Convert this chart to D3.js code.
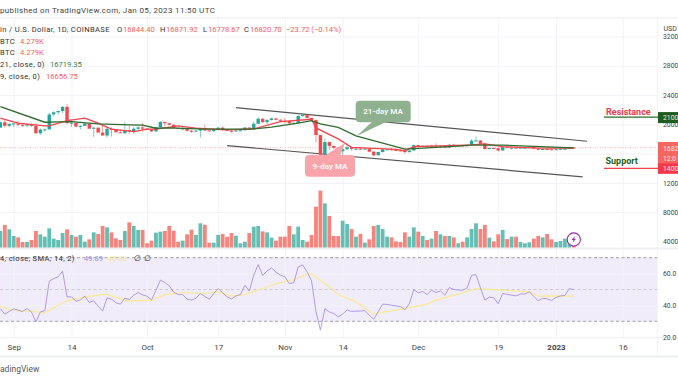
<!DOCTYPE html>
<html lang="en">
<head>
    <meta charset="UTF-8">
    <title>Bitcoin / U.S. Dollar</title>
    <script src="https://d3js.org/d3.v7.min.js"></script>
    <style>
        body { margin: 0; background: white; overflow: hidden; }
        text { font-family: Roboto, sans-serif; }
        .tick text { fill: #444; font-size: 8px; }
        .rightAxis .tick text { font-size: 6.8px; }
        .domain { display: none; }
        .grid line { stroke: #f1f3f9; }
        .legend { font-size: 7.6px; fill: #333; }
    </style>
</head>
<body>
<script>
    const width  = 678;
    const height = 381;

    // one entry per day, starting on Aug 29 2022
    const opens = [
        19550,20290,19810,
        20050,20130,19950,19830,20000,19800,18790,19290,19320,21360,21650,21830,22400,20180,20240,19700,19800,20110,19420,19540,18880,18480,19400,19290,18920,18800,19220,19080,19410,19590,
        19420,19310,19050,19620,20330,20160,19950,19530,19420,19440,19130,19060,19150,19380,19180,19060,19260,19550,19330,19120,19040,19160,19200,19570,19330,20090,20770,20300,20590,20820,20630,
        20490,20480,20150,20200,21140,21300,20900,20590,18540,15880,17590,17060,16810,16330,16610,16880,16660,16690,16680,16700,16280,15780,16230,16600,16600,16520,16460,16430,16210,16440,
        17170,16970,17090,16890,17110,16970,17090,16840,17230,17130,17130,17080,17200,17780,17810,17360,16630,16780,16740,16440,16900,16820,16830,16780,16830,16830,16910,16700,16540,16630,16600,
        16540,16610,16670,16670,16844.40
    ];
    const closes = [
        20290,19810,20050,
        20130,19950,19830,20000,19800,18790,19290,19320,21360,21650,21830,22400,20180,20240,19700,19800,20110,19420,19540,18880,18480,19400,19290,18920,18800,19220,19080,19410,19590,19420,
        19310,19050,19620,20330,20160,19950,19530,19420,19440,19130,19060,19150,19380,19180,19060,19260,19550,19330,19120,19040,19160,19200,19570,19330,20090,20770,20300,20590,20820,20630,20490,
        20480,20150,20200,21140,21300,20900,20590,18540,15880,17590,17060,16810,16330,16610,16880,16660,16690,16680,16700,16280,15780,16230,16600,16600,16520,16460,16430,16210,16440,17170,
        16970,17090,16890,17110,16970,17090,16840,17230,17130,17130,17080,17200,17780,17810,17360,16630,16780,16740,16440,16900,16820,16830,16780,16830,16830,16910,16700,16540,16630,16600,16540,
        16610,16670,16670,16850,16820.70
    ];
    const highs = [
        20400,20600,20200,
        20210,20450,20040,20050,20160,20160,19460,19450,21600,21790,21850,22490,22780,20550,20190,19900,20190,20110,19690,19620,19950,19510,19610,19310,19320,20340,19790,19650,19770,20180,
        19480,19390,19700,20450,20370,20160,20050,19600,19640,19520,19270,19220,19500,19950,19200,19300,19680,19700,19350,19350,19260,19250,19600,19600,20400,21000,20850,20750,20900,20840,20720,
        20840,20240,20400,21300,21460,21350,20680,20650,18600,18100,17650,17100,16900,17170,17130,17000,16790,16740,16800,16730,16300,16290,16600,16680,16780,16660,16590,16670,16450,17240,
        17240,17110,17100,17200,17420,17140,17150,17300,17350,17170,17220,17240,18000,18380,17840,17520,16800,16850,16820,17000,16890,16850,16840,16870,16840,16940,16930,16770,16650,16650,16630,
        16620,16760,16770,16990,16871.92
    ];
    const lows = [
        19800,19550,19600,
        19620,19760,19670,19620,19640,18700,18550,19000,19300,21100,21350,21560,20000,19650,19600,19320,19900,19380,18300,19300,18700,18200,18350,19000,18850,18650,18700,18650,19000,19000,
        19180,18950,19020,19500,19730,19880,19500,19320,19300,19030,18850,19000,18200,19100,19050,19030,19240,19100,19060,18900,19020,19130,19160,19250,19250,20050,20200,20000,20560,20530,20300,
        20050,20050,20050,20170,21060,20850,20400,17600,15650,15800,16500,16650,16300,15830,16530,16400,16450,16550,16550,16200,15650,15800,16170,16550,16460,16360,16300,16020,16190,16420,
        16870,16880,16870,16880,16900,16750,16720,16800,17080,17090,17070,16880,17080,17660,17300,16550,16600,16670,16300,16400,16760,16580,16760,16800,16790,16800,16600,16480,16480,16520,16500,
        16500,16550,16650,16650,16778.67
    ];
    const volumes = [
        5380,6210,5610,
        4690,4500,3860,3860,4140,5380,4920,4600,5750,4320,4140,5100,5610,4830,4600,4830,3910,4230,5190,4960,6070,5880,5190,4370,4140,5380,6570,6070,5520,5520,
        3680,4050,5150,5290,5380,6070,5420,3910,4050,4920,5560,4830,6440,6250,3770,3770,4830,4960,4600,5100,4730,3680,3910,5100,5980,6070,5330,5190,4460,4050,4600,
        4600,6070,4920,5980,4140,3910,4830,8730,10940,9190,7450,4690,4690,6800,6340,5650,4600,4960,3770,4230,6070,6210,5650,4600,4500,3950,3860,5190,4600,5880,
        5290,4690,4140,4320,5380,4920,4690,4690,4500,3680,3910,4500,5650,6440,5650,6210,4460,3950,4920,5520,4270,4600,4600,3860,3680,3820,4320,4690,4500,4960,4230,
        3860,4000,4320,4140,3450
    ];
    const rsiValues = [
        38.0,34.5,36.2,
        37.8,37.0,36.2,38.0,35.9,29.6,35.9,36.6,55.2,56.9,58.0,61.5,45.4,45.4,42.6,43.5,45.8,41.8,42.9,39.5,36.4,44.7,43.9,41.6,40.8,44.5,43.7,46.4,48.1,46.6,
        45.8,43.5,49.5,55.9,54.4,52.3,48.3,46.8,46.8,44.1,43.3,44.5,47.5,45.6,43.9,47.5,50.6,47.9,45.4,44.1,46.0,46.8,52.7,49.1,59.0,65.7,58.8,61.7,63.6,60.9,59.0,
        58.0,53.8,54.2,64.2,65.5,61.1,55.4,36.0,24.4,38.0,35.9,34.9,32.8,34.5,37.2,36.2,36.4,36.4,36.8,33.8,31.3,36.0,40.8,40.6,40.1,39.7,39.2,37.3,41.0,50.0,
        47.9,48.8,46.8,49.5,48.1,49.1,46.4,51.2,50.0,49.7,49.5,51.0,58.9,59.3,51.0,43.3,45.2,44.8,41.0,47.5,47.0,46.4,46.0,47.2,47.2,48.5,45.6,42.8,44.5,44.1,43.1,
        45.0,46.0,46.2,50.6,49.89
    ];

    // the smoothed lines, read as corner points: day after Sep 1, value
    const ma21Days   = [-3,7,10,13,19,26,29,32,35,43,53,58,64,67,69,73,77,88,98,103,110,126];
    const ma21Prices = [22425,20297,20338,20380,20065,19929,19888,19478,19520,19343,19343,19616,20161,20516,20065,19588,18428,16615,16969,17160,17160,16800];
    const ma9Days    = [-3,1,7,8,12,16,19,22,27,30,32,37,41,48,54,60,67,68,73,76,86,88,90,98,103,106,110,118,126];
    const ma9Prices  = [20843,20161,19793,19793,20516,20843,20161,19343,19016,19343,19343,19793,19478,19247,19384,20379,20706,19520,18020,16860,16587,16383,16969,17106,17201,17338,16969,16751,16751];
    const smaDays    = [-3,-1,1,5,7,10,12,14,16,21,23,26,31,34,38,43,46,49,52,56,59,63,66,67,70,73,77,81,84,88,93,95,101,104,110,116,118,126];
    const smaValues  = [39.5,37.4,36.6,36.0,35.3,40.1,42.9,44.1,45.4,47.1,45.0,42.7,43.3,46.8,48.1,47.5,48.7,45.8,46.8,50.6,53.6,56.3,59.6,60.0,53.8,47.0,42.2,34.5,36.2,38.0,40.8,43.3,47.9,50.6,49.6,48.5,45.8,45.8];

    const upperDays   = [50,129];
    const upperPrices = [22290,17700];
    const lowerDays   = [48,128];
    const lowerPrices = [17100,12840];

    const priceTicks = [32000,28000,24000,20000,16000,12000];
    const priceLabels = ["3200","2800","2400","2000","","1200"];
    const volumeTicks = [8000,4000];
    const volumeLabels = ["8000","4000"];
    const rsiTicks = [60,40,20];
    const rsiLabels = ["60.0","40.0","20.0"];
    const timeTicks = [0,13,30,46,61,74,91,109,122,137];
    const timeLabels = ["Sep","14","Oct","17","Nov","14","Dec","19","2023","16"];

    const paneRight = 657;
    const volumeBottom = 247.5;

    const svg = d3.select("body").append("svg").attr("width",width).attr("height",height)
            .style("display","block");

    const x = d3.scaleLinear().domain([0,137]).range([13.7,622.7]);
    const yPrice = d3.scaleLinear().domain([12000,32000]).range([183,36.5]);
    const yVolume = d3.scaleLinear().domain([4000,8000]).range([241,212]);
    const yRsi = d3.scaleLinear().domain([30,70]).range([321.3,257.7]);

    const candles = opens.map((o,i) => ({day: i-3, open: o, close: closes[i], high: highs[i], low: lows[i], volume: volumes[i]}));
    const isUp = d => d.close >= d.open;

    // lilac RSI band goes under the grid
    svg.append("rect").attr("x",0).attr("y",yRsi(70)).attr("width",paneRight)
            .attr("height",yRsi(30)-yRsi(70)).attr("fill","#f0ecf9");

    // vertical and horizontal grid
    const gridX = d3.axisBottom(x).tickValues(timeTicks).tickSize(337-18).tickFormat("");
    svg.append("g").attr("class","grid").attr("transform","translate(0,18)").call(gridX);

    [[yPrice,priceTicks],[yVolume,volumeTicks.slice(0,1)],[yRsi,[60,40,20]]].forEach(p => {
        svg.append("g").attr("class","grid").attr("transform","translate("+paneRight+",0)")
                .call(d3.axisLeft(p[0]).tickValues(p[1]).tickSize(paneRight).tickFormat(""));
    });

    // pane separators
    const separators = [[18,1,"#e9ebf3"],[248.5,2,"#eff0f4"],[337.5,1,"#f0f1f6"],[356.5,2,"#eeeff3"]];
    svg.selectAll("rect.sep").data(separators).enter().append("rect").attr("class","sep")
            .attr("x",0).attr("width",width).attr("y",d => d[0]-d[1]/2).attr("height",d => d[1])
            .attr("fill",d => d[2]);
    svg.append("rect").attr("x",paneRight).attr("y",18).attr("width",0.7).attr("height",338).attr("fill","#eef0f5");

    // volume
    svg.selectAll("rect.vol").data(candles).enter().append("rect").attr("class","vol")
            .attr("x",d => x(d.day)-1.9).attr("width",3.8)
            .attr("y",d => yVolume(d.volume))
            .attr("height",d => volumeBottom-yVolume(d.volume))
            .attr("fill",d => isUp(d) ? "#63bfb3" : "#f8837c");

    // last price dotted line
    svg.append("line").attr("x1",0).attr("x2",paneRight)
            .attr("y1",yPrice(closes[closes.length-1])).attr("y2",yPrice(closes[closes.length-1]))
            .attr("stroke","#f59c98").attr("stroke-width",0.8).attr("stroke-dasharray","1,1.5");

    // channel
    const line = d3.line().x(d => x(d[0])).y(d => d[1]);
    const channelLine = (days,prices) => days.map((d,i) => [d,yPrice(prices[i])]);
    svg.append("path").attr("d",line(channelLine(upperDays,upperPrices))).attr("fill","none")
            .attr("stroke","#555").attr("stroke-width",1.2);
    svg.append("path").attr("d",line(channelLine(lowerDays,lowerPrices))).attr("fill","none")
            .attr("stroke","#555").attr("stroke-width",1.2);

    // candles
    svg.selectAll("line.wick").data(candles).enter().append("line").attr("class","wick")
            .attr("x1",d => x(d.day)).attr("x2",d => x(d.day))
            .attr("y1",d => yPrice(d.high)).attr("y2",d => yPrice(d.low))
            .attr("stroke",d => isUp(d) ? "#5fc0b4" : "#f47c78").attr("stroke-width",0.8);
    svg.selectAll("rect.candle").data(candles).enter().append("rect").attr("class","candle")
            .attr("x",d => x(d.day)-1.7).attr("width",3.4)
            .attr("y",d => yPrice(Math.max(d.open,d.close)))
            .attr("height",d => Math.max(1,Math.abs(yPrice(d.open)-yPrice(d.close))))
            .attr("fill",d => isUp(d) ? "#26a69a" : "#f4484c");

    // moving averages
    svg.append("path").attr("d",line(channelLine(ma9Days,ma9Prices))).attr("fill","none")
            .attr("stroke","#f2444d").attr("stroke-width",1.3);
    svg.append("path").attr("d",line(channelLine(ma21Days,ma21Prices))).attr("fill","none")
            .attr("stroke","#2f6b2f").attr("stroke-width",1.3);

    // callouts
    svg.append("polygon").attr("points","373,121 388,121 356.7,136").attr("fill","#8fb18f");
    svg.append("rect").attr("x",355.7).attr("y",100.7).attr("width",55).attr("height",21.6).attr("rx",4)
            .attr("fill","#8fb18f");
    svg.append("text").attr("x",383).attr("y",114.3).attr("text-anchor","middle")
            .attr("font-size",8).attr("font-weight",700).attr("fill","#f2f6f2").text("21-day MA");
    svg.append("polygon").attr("points","324,156 340,156 345,143").attr("fill","#f9a4aa");
    svg.append("rect").attr("x",305).attr("y",155).attr("width",50).attr("height",21.7).attr("rx",4)
            .attr("fill","#f9a4aa");
    svg.append("text").attr("x",330).attr("y",168.8).attr("text-anchor","middle")
            .attr("font-size",8).attr("font-weight",700).attr("fill","#fff4f4").text("9-day MA");

    // support and resistance
    svg.append("line").attr("x1",604).attr("x2",658).attr("y1",yPrice(21000)).attr("y2",yPrice(21000))
            .attr("stroke","#2f6b2f").attr("stroke-width",1.1);
    svg.append("line").attr("x1",604).attr("x2",658).attr("y1",yPrice(14000)).attr("y2",yPrice(14000))
            .attr("stroke","#f2444d").attr("stroke-width",1.1);
    svg.append("text").attr("x",606).attr("y",115).attr("font-size",9).attr("font-weight",700)
            .attr("fill","#f2364a").text("Resistance");
    svg.append("text").attr("x",605.5).attr("y",163.5).attr("font-size",9).attr("font-weight",700)
            .attr("fill","#1f6120").text("Support");

    // RSI lines
    svg.selectAll("line.rsiLevel").data([70,50,30]).enter().append("line").attr("class","rsiLevel")
            .attr("x1",0).attr("x2",paneRight).attr("y1",d => yRsi(d)).attr("y2",d => yRsi(d))
            .attr("stroke",d => d == 50 ? "#c4c2cc" : "#8a8890").attr("stroke-width",0.8)
            .attr("stroke-dasharray","3,2.5");
    svg.append("path").attr("d",d3.line().x(d => x(d[0])).y(d => yRsi(d[1]))(smaDays.map((d,i) => [d,smaValues[i]])))
            .attr("fill","none").attr("stroke","#f8ea90").attr("stroke-width",1.2);
    svg.append("path").attr("d",d3.line().x(d => x(d.day)).y(d => yRsi(d.value))(rsiValues.map((v,i) => ({day: i-3, value: v}))))
            .attr("fill","none").attr("stroke","#a892df").attr("stroke-width",0.9);

    // right axes
    const rightAxis = (scale,ticks,labels) => {
        svg.append("g").attr("class","rightAxis").attr("transform","translate(663,0)")
                .call(d3.axisRight(scale).tickValues(ticks).tickSize(0).tickPadding(0)
                        .tickFormat((d,i) => labels[i]));
    };
    rightAxis(yPrice,priceTicks,priceLabels);
    rightAxis(yVolume,volumeTicks,volumeLabels);
    rightAxis(yRsi,rsiTicks,rsiLabels);

    // time axis
    const timeAxis = svg.append("g").attr("transform","translate(0,344)")
            .call(d3.axisBottom(x).tickValues(timeTicks).tickSize(0).tickPadding(0)
                    .tickFormat((d,i) => timeLabels[i]));
    timeAxis.selectAll("text").attr("font-weight",(d,i) => timeLabels[i] == "2023" ? 700 : 400);

    // USD sits over the clipped top label
    svg.append("rect").attr("x",660).attr("y",20).attr("width",18).attr("height",13).attr("fill","white");
    svg.append("text").attr("x",663.5).attr("y",31).attr("font-size",7).attr("fill","#444").text("USD");

    // price tags
    const tags = [
        [yPrice(21000)-5, 11, "#1f5c20", "2100", "#e8f0e8", yPrice(21000)+2.6],
        [142, 22, "#f4665f", "1682", "#fde8e6", 150.5],
        [yPrice(14000)-5, 10.5, "#f5374a", "1400", "#fde8e6", yPrice(14000)+2.6]
    ];
    svg.selectAll("rect.tag").data(tags).enter().append("rect").attr("class","tag")
            .attr("x",658).attr("width",20).attr("y",d => d[0]).attr("height",d => d[1]).attr("fill",d => d[2]);
    svg.selectAll("text.tag").data(tags).enter().append("text").attr("class","tag")
            .attr("x",663).attr("y",d => d[5]).attr("font-size",6.8).attr("fill",d => d[4]).text(d => d[3]);
    svg.append("text").attr("x",663).attr("y",160.5).attr("font-size",6.8).attr("fill","#fde8e6").text("12:0");

    // header text
    svg.append("text").attr("x",0).attr("y",13).attr("font-size",8).attr("letter-spacing",0.35).attr("fill","#444")
            .text("published on TradingView.com, Jan 05, 2023 11:50 UTC");
    svg.append("text").attr("x",0).attr("y",372).attr("font-size",8.5).attr("fill","#555").text("adingView");

    // legend rows: [x, y, text, colour]
    const red = "#f4605c";
    const legendRows = [
        [0,32,"in / U.S. Dollar, 1D, COINBASE","#333"],
        [117,32,"O","#333"],[123,32,"16844.40",red],
        [160,32,"H","#333"],[166,32,"16871.92",red],
        [203,32,"L","#333"],[208,32,"16778.67",red],
        [244,32,"C","#333"],[250,32,"16820.70",red],
        [286,32,"\u221223.72 (\u22120.14%)",red],
        [0,43.5,"BTC","#333"],[20,43.5,"4.279K",red],
        [0,55,"BTC","#333"],[20,55,"4.279K",red],
        [0,67,"21, close, 0)","#333"],[50,67,"16719.35","#3c7d3c"],
        [0,79,"9, close, 0)","#333"],[46,79,"16656.75",red],
        [0,261,"4, close, SMA, 14, 2)","#333"],[84,261,"49.89","#a48fdc"],[108,261,"45.83","#f7e98e"],
        [134,261,"\u2205","#333"],[144,261,"\u2205","#333"]
    ];
    svg.selectAll("text.legend").data(legendRows).enter().append("text").attr("class","legend")
            .attr("x",d => d[0]).attr("y",d => d[1]).attr("letter-spacing",d => d[3] == "#333" ? 0.35 : 0)
            .style("fill",d => d[3]).text(d => d[2]);

    // replay badge
    svg.append("circle").attr("cx",x(126)).attr("cy",239.5).attr("r",6.6)
            .attr("fill","white").attr("stroke","#9c27b0").attr("stroke-width",1.1);
    svg.append("path").attr("transform","translate("+x(126)+",239.5)")
            .attr("d","M1.4,-3.6 L-2.2,0.6 L-0.2,0.6 L-1.4,3.6 L2.2,-0.8 L0.2,-0.8 Z").attr("fill","#9c27b0");

</script>
</body>
</html>
